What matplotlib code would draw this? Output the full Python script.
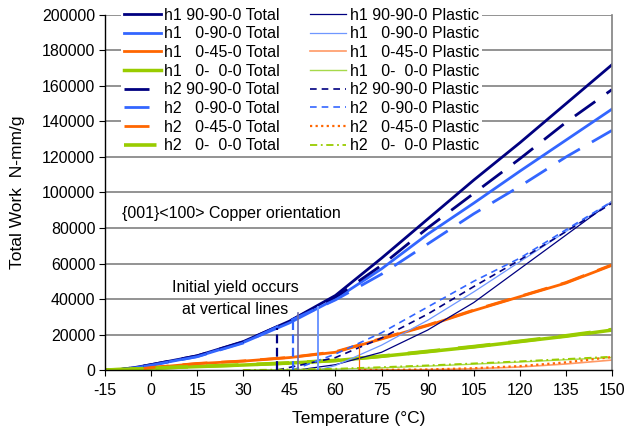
"""Total and plastic work vs temperature, {001}<100> Copper orientation."""
import numpy as np
import matplotlib
matplotlib.use('Agg')
import matplotlib.pyplot as plt

plt.rcParams['font.family'] = ['Liberation Sans', 'DejaVu Sans']
plt.rcParams['axes.unicode_minus'] = False

# ---- total work (N-mm/g) ----
T_TOT = [-15, -10, -5, 0, 15, 30, 45, 60, 75, 90, 105, 120, 135, 150]

h1_9090_tot = [0, 300, 1500, 3000, 8000, 16000, 27500, 42000, 63000, 85000, 107000, 128000, 150000, 172000]
h1_090_tot = [0, 200, 1300, 2700, 7600, 15500, 26500, 40000, 57000, 76500, 94000, 112000, 129500, 147000]
h1_045_tot = [0, 0, 300, 1300, 3600, 5000, 7000, 10000, 17500, 25000, 33500, 41300, 49000, 59000]
h1_000_tot = [0, 300, 600, 1000, 1900, 2800, 3900, 5300, 7700, 10300, 13000, 16000, 19000, 22500]

h2_9090_tot = [0, 300, 1500, 3000, 8000, 15800, 27500, 41000, 59000, 80000, 99500, 119000, 139500, 158000]
h2_090_tot = [0, 200, 1300, 2700, 7500, 15200, 27500, 39500, 54000, 71000, 88000, 103500, 120000, 135000]
h2_045_tot = [0, 0, 300, 1400, 3700, 5100, 7100, 10300, 17800, 25300, 33800, 41500, 49300, 59300]
h2_000_tot = [0, 300, 600, 1000, 2000, 2900, 4000, 5400, 7800, 10500, 13200, 16200, 19300, 22800]

# ---- plastic work ----
T_h1_9090_pl = [47.7, 60, 75, 90, 105, 120, 135, 150]
h1_9090_pl = [0, 3000, 10000, 22500, 38000, 57000, 76000, 95000]
T_h1_090_pl = [54.4, 60, 75, 90, 105, 120, 135, 150]
h1_090_pl = [0, 2500, 14000, 28000, 44000, 61000, 78000, 95000]
T_h1_045_pl = [67.5, 90, 105, 120, 135, 150]
h1_045_pl = [0, 200, 700, 1700, 3400, 5600]
T_h1_000_pl = [30, 45, 60, 75, 90, 105, 120, 135, 150]
h1_000_pl = [0, 200, 500, 1200, 2200, 3300, 4500, 5800, 7000]

T_h2_9090_pl = [41.1, 60, 75, 90, 105, 120, 135, 150]
h2_9090_pl = [0, 7000, 18000, 31500, 47000, 62000, 78000, 94000]
T_h2_090_pl = [46.1, 60, 75, 90, 105, 120, 135, 150]
h2_090_pl = [0, 9000, 21000, 35500, 50000, 63000, 79000, 95000]
T_h2_045_pl = [67.5, 90, 105, 120, 135, 150]
h2_045_pl = [0, 300, 1000, 2200, 4300, 7300]
T_h2_000_pl = [30, 45, 60, 75, 90, 105, 120, 135, 150]
h2_000_pl = [0, 300, 700, 1600, 2600, 3700, 4900, 6200, 7500]

# ---- initial yield markers ----
yield_T = [41.1, 46.1, 47.7, 54.4, 67.5]
yield_W = [23700, 29300, 32100, 35700, 13100]

NAVY = '#000080'
BLUE = '#3366ff'
LBLUE = '#6f97ff'
ORANGE = '#ff6600'
LORANGE = '#ff9966'
GREEN = '#99cc00'
LGREEN = '#a6d94a'

FS = 11.5


def main():
    fig = plt.figure(figsize=(6.26, 4.32), dpi=100)
    ax = fig.add_axes([0.1677, 0.1435, 0.81, 0.8218])

    for v in range(20000, 200001, 20000):
        ax.axhline(v, color='#808080', lw=1.2, zorder=0)

    dash_tot = (0, (9, 5))
    lines = []
    lines.append(ax.plot(T_TOT, h1_9090_tot, color=NAVY, lw=2.0, label='h1 90-90-0 Total')[0])
    lines.append(ax.plot(T_TOT, h1_090_tot, color=BLUE, lw=2.0, label='h1   0-90-0 Total')[0])
    lines.append(ax.plot(T_TOT, h1_045_tot, color=ORANGE, lw=2.0, label='h1   0-45-0 Total')[0])
    lines.append(ax.plot(T_TOT, h1_000_tot, color=GREEN, lw=2.5, label='h1   0-  0-0 Total')[0])
    lines.append(ax.plot(T_TOT, h2_9090_tot, color=NAVY, lw=2.0, ls=dash_tot, label='h2 90-90-0 Total')[0])
    lines.append(ax.plot(T_TOT, h2_090_tot, color=BLUE, lw=2.0, ls=dash_tot, label='h2   0-90-0 Total')[0])
    lines.append(ax.plot(T_TOT, h2_045_tot, color=ORANGE, lw=2.0, ls=dash_tot, label='h2   0-45-0 Total')[0])
    lines.append(ax.plot(T_TOT, h2_000_tot, color=GREEN, lw=2.6, ls=dash_tot, label='h2   0-  0-0 Total')[0])

    lines.append(ax.plot(T_h1_9090_pl, h1_9090_pl, color=NAVY, lw=0.9, label='h1 90-90-0 Plastic')[0])
    lines.append(ax.plot(T_h1_090_pl, h1_090_pl, color=LBLUE, lw=0.9, label='h1   0-90-0 Plastic')[0])
    lines.append(ax.plot(T_h1_045_pl, h1_045_pl, color=LORANGE, lw=1.2, label='h1   0-45-0 Plastic')[0])
    lines.append(ax.plot(T_h1_000_pl, h1_000_pl, color=LGREEN, lw=1.0, label='h1   0-  0-0 Plastic')[0])
    lines.append(ax.plot(T_h2_9090_pl, h2_9090_pl, color=NAVY, lw=1.2, ls=(0, (4, 3)), label='h2 90-90-0 Plastic')[0])
    lines.append(ax.plot(T_h2_090_pl, h2_090_pl, color=BLUE, lw=1.2, ls=(0, (4, 3)), label='h2   0-90-0 Plastic')[0])
    lines.append(ax.plot(T_h2_045_pl, h2_045_pl, color=ORANGE, lw=1.6, ls=(0, (1, 1.5)), label='h2   0-45-0 Plastic')[0])
    lines.append(ax.plot(T_h2_000_pl, h2_000_pl, color=GREEN, lw=1.3, ls=(0, (4, 2, 1, 2)), label='h2   0-  0-0 Plastic')[0])

    # vertical lines where initial yield occurs
    v_styles = [dict(color=NAVY, lw=1.6, ls=(0, (4, 2))),
                dict(color=BLUE, lw=1.6, ls=(0, (4, 2))),
                dict(color='#6a6aaa', lw=1.2),
                dict(color=LBLUE, lw=1.4),
                dict(color=ORANGE, lw=0.9)]
    for t, w, st in zip(yield_T, yield_W, v_styles):
        ax.plot([t, t], [0, w], **st)

    ax.text(-9.5, 88400, '{001}<100> Copper orientation', fontsize=FS, va='center', ha='left')
    ax.text(27.3, 46200, 'Initial yield occurs', fontsize=FS, va='center', ha='center')
    ax.text(27.3, 34200, 'at vertical lines', fontsize=FS, va='center', ha='center')

    ax.set_xlim(-15, 150)
    ax.set_ylim(0, 200000)
    ax.set_xticks(np.arange(-15, 151, 15))
    ax.set_yticks(np.arange(0, 200001, 20000))
    ax.tick_params(axis='both', direction='out', length=4, width=0.8, labelsize=FS, pad=3)
    ax.tick_params(axis='x', pad=5)
    for s in ['left', 'bottom']:
        ax.spines[s].set_color('black')
        ax.spines[s].set_linewidth(1.0)
    ax.spines['top'].set_visible(False)
    ax.spines['right'].set_color('#808080')
    ax.spines['right'].set_linewidth(1.2)

    ax.set_xlabel('Temperature (°C)', fontsize=12.5, labelpad=10)
    ax.set_ylabel('Total Work  N-mm/g', fontsize=12.5, labelpad=12)

    leg = ax.legend(handles=lines, ncol=2, loc='upper left', bbox_to_anchor=(0.032, 1.03),
                    fontsize=FS, frameon=True, facecolor='white', edgecolor='none', framealpha=1,
                    fancybox=False, borderpad=0.2, labelspacing=0.23, handlelength=2.3,
                    handletextpad=0.2, columnspacing=1.85, borderaxespad=0)
    leg.set_zorder(5)

    fig.savefig('out.png', dpi=100)
    plt.close(fig)


if __name__ == '__main__':
    main()
